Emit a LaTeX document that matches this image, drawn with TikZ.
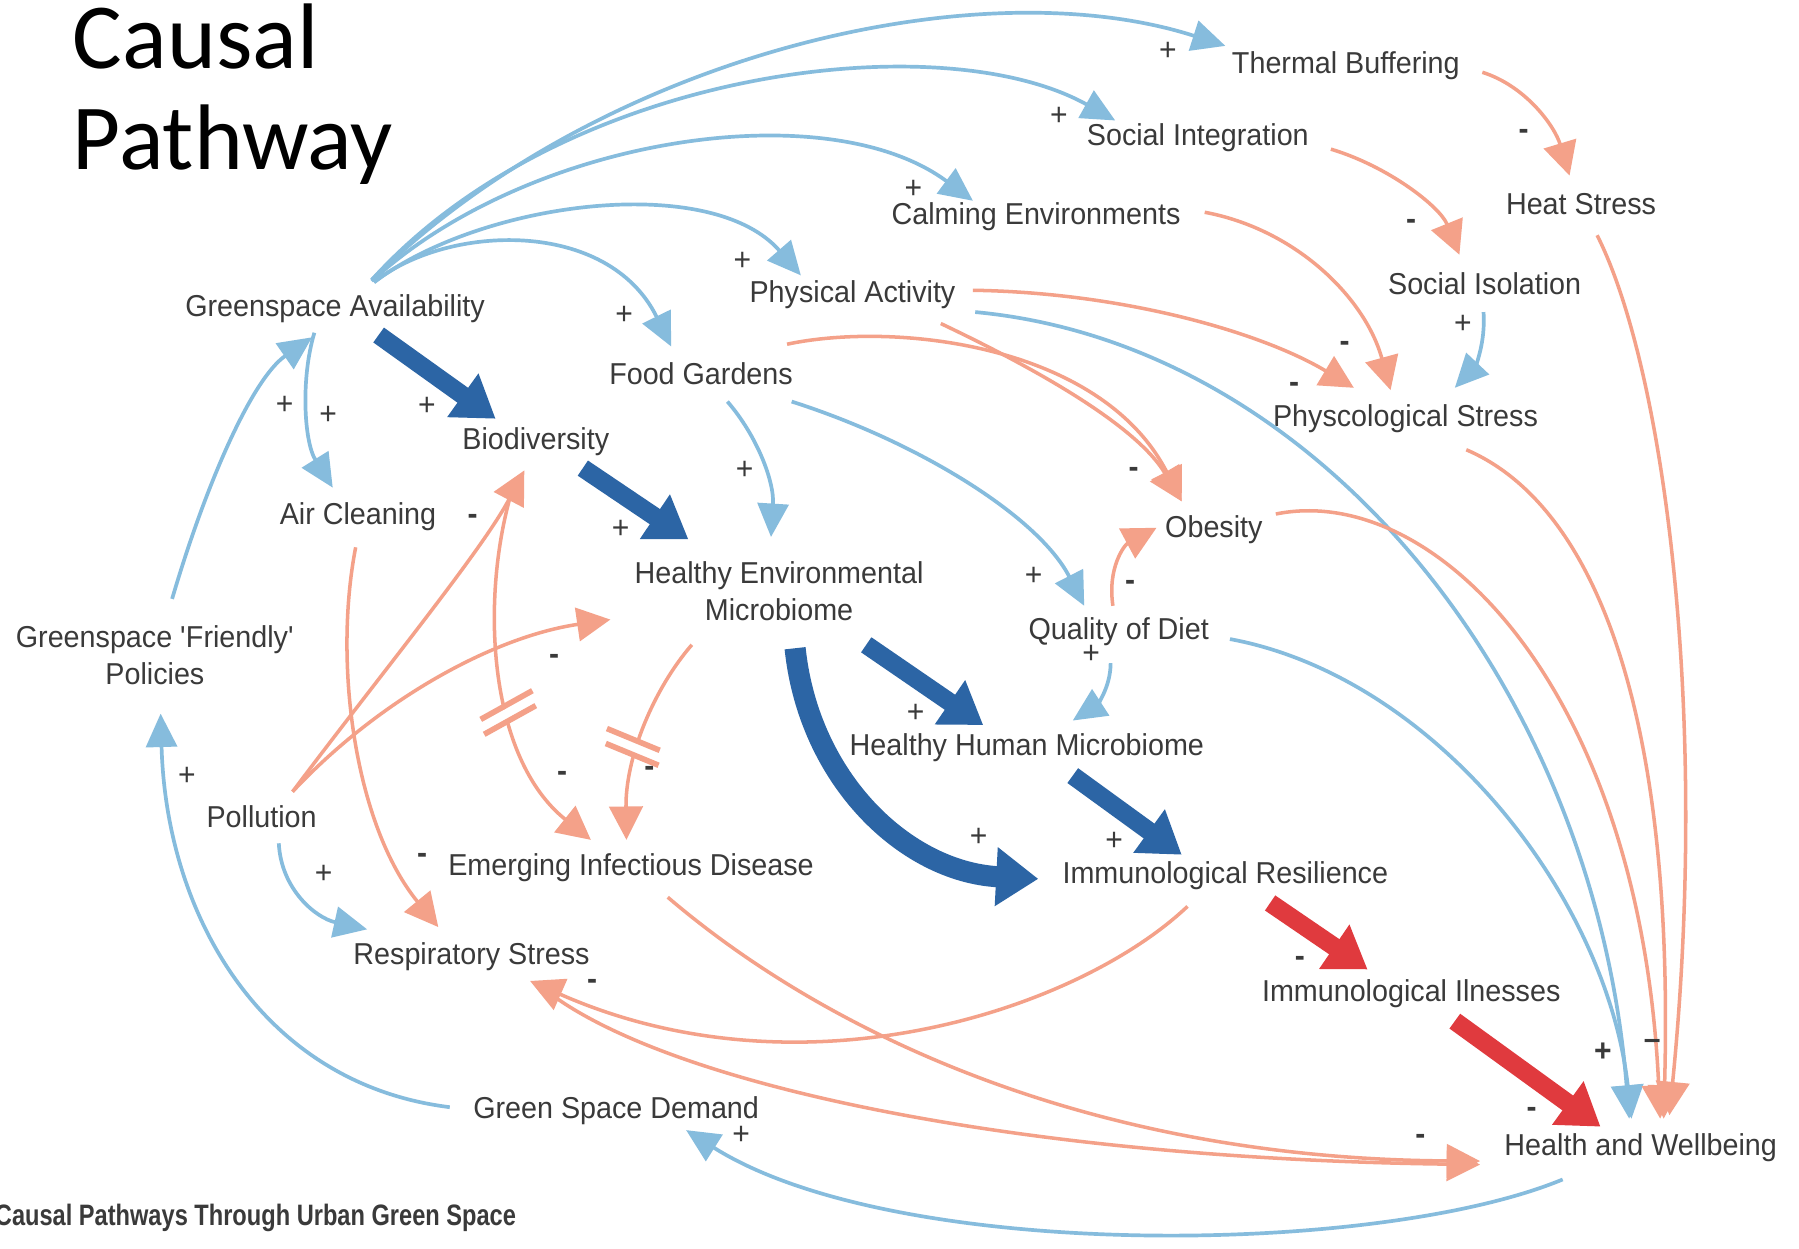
\documentclass[tikz,border=0pt]{standalone}
\usepackage{fontspec}
\setmainfont{Liberation Sans}[FakeStretch=0.95]
\newfontfamily\titlefont{Carlito}
\newfontfamily\capfont{Liberation Sans}[FakeStretch=0.8]
\usetikzlibrary{arrows.meta,calc}
\definecolor{lb}{HTML}{86BCDD}
\definecolor{sal}{HTML}{F4A189}
\definecolor{db}{HTML}{2C65A5}
\definecolor{rd}{HTML}{E03A3E}
\definecolor{txt}{HTML}{3A3A3A}
\begin{document}
\begin{tikzpicture}[x=0.011473cm,y=-0.011473cm,
 lbl/.style={font=\fontsize{8.6}{10.5}\selectfont, text=txt, inner sep=0pt, align=center},
 sgn/.style={font=\fontsize{9}{9}\selectfont, text=txt, inner sep=0pt},
 ng/.style={font=\bfseries\fontsize{9}{9}\selectfont, text=txt, inner sep=0pt},
 blu/.style={draw=lb, line width=1.05pt, -{Triangle[length=9.5pt,width=8.8pt]}},
 sa/.style={draw=sal, line width=1pt, -{Triangle[length=9.5pt,width=9.5pt]}},
 thk/.style={line width=5.2pt, -{Triangle[length=11.5pt,width=14.5pt]}},
 bar/.style={draw=sal, line width=1.6pt},
]
\fill[white] (0,0) rectangle (1568,1088);
\useasboundingbox (0,0) rectangle (1568,1088);

% ---------- nodes ----------
\node[lbl] (tb) at (1173,57) {Thermal Buffering};
\node[lbl] (si) at (1044,120) {Social Integration};
\node[lbl] (hs) at (1378,178) {Heat Stress};
\node[lbl] (ce) at (903,189) {Calming Environments};
\node[lbl] (so) at (1294,247) {Social Isolation};
\node[lbl] (pa) at (743,257) {Physical Activity};
\node[lbl] (ga) at (292,269) {Greenspace Availability};
\node[lbl] (fg) at (611,326) {Food Gardens};
\node[lbl] (ps) at (1225,365) {Physcological Stress};
\node[lbl] (bd) at (467,385) {Biodiversity};
\node[lbl] (ac) at (312,450) {Air Cleaning};
\node[lbl] (ob) at (1058,462) {Obesity};
\node[lbl] (hem) at (679,515) {Healthy Environmental\\Microbiome};
\node[lbl] (qd) at (975,551) {Quality of Diet};
\node[lbl] (gfp) at (135,571) {Greenspace \textquotesingle Friendly\textquotesingle\\Policies};
\node[lbl] (hhm) at (895,652) {Healthy Human Microbiome};
\node[lbl] (po) at (228,712) {Pollution};
\node[lbl] (eid) at (550,756) {Emerging Infectious Disease};
\node[lbl] (ir) at (1068,763) {Immunological Resilience};
\node[lbl] (rs) at (411,834) {Respiratory Stress};
\node[lbl] (ii) at (1230,866) {Immunological Ilnesses};
\node[lbl] (gsd) at (537,968) {Green Space Demand};
\node[lbl] (hw) at (1430,1000) {Health and Wellbeing};

\node[font=\titlefont\fontsize{26.5}{30}\selectfont, anchor=base west, inner sep=0pt] (t1) at (63,60) {Causal};
\node[font=\titlefont\fontsize{26.5}{30}\selectfont, anchor=base west, inner sep=0pt] (t2) at (63,148) {Pathway};
\node[font=\capfont\bfseries\fontsize{8.4}{10}\selectfont, text=txt, anchor=base west, inner sep=0pt] (cap) at (-5,1068) {Causal Pathways Through Urban Green Space};

% ---------- thin blue connectors ----------
\draw[blu] ($(ga)+(32,-25)$) .. controls (520,50) and (850,-30) .. ($(tb)+(-105,-17)$);
\draw[blu] ($(ga)+(32,-25)$) .. controls (490,60) and (820,20) .. ($(si)+(-72,-15)$);
\draw[blu] ($(ga)+(32,-24)$) .. controls (460,120) and (720,80) .. ($(ce)+(-55,-14)$);
\draw[blu] ($(ga)+(34,-23)$) .. controls (420,175) and (620,150) .. ($(pa)+(-45,-17)$);
\draw[blu] ($(ga)+(34,-23)$) .. controls (390,195) and (530,190) .. ($(fg)+(-26,-24)$);
\draw[blu] ($(ga)+(-18,21)$) .. controls (262,330) and (265,385) .. ($(ac)+(-22,-25)$);
\draw[blu] ($(gfp)+(15,-49)$) .. controls (180,420) and (220,330) .. ($(ga)+(-20,25)$);
\draw[blu] ($(gsd)+(-145,-3)$) .. controls (230,945) and (145,800) .. ($(gfp)+(5,51)$);
\draw[blu] ($(hw)+(-68,28)$) .. controls (1200,1095) and (780,1100) .. ($(gsd)+(61,17)$);
\draw[blu] ($(po)+(15,23)$) .. controls (245,775) and (275,800) .. ($(rs)+(-91,-24)$);
\draw[blu] ($(fg)+(23,24)$) .. controls (660,380) and (675,420) .. ($(hem)+(-7,-47)$);
\draw[blu] ($(fg)+(79,24)$) .. controls (800,385) and (905,450) .. ($(qd)+(-30,-23)$);
\draw[blu] ($(pa)+(107,15)$) .. controls (1150,300) and (1390,600) .. ($(hw)+(-10,-25)$);
\draw[blu] ($(qd)+(97,6)$) .. controls (1250,590) and (1400,780) .. ($(hw)+(-8,-25)$);
\draw[blu] ($(qd)+(-7,27)$) .. controls (968,600) and (955,615) .. ($(hhm)+(40,-24)$);
\draw[blu] ($(so)+(-1,25)$) .. controls (1295,300) and (1285,320) .. ($(ps)+(43,-27)$);

% ---------- thin salmon connectors ----------
\draw[sa] ($(tb)+(119,6)$) .. controls (1330,75) and (1355,110) .. ($(hs)+(-10,-25)$);
\draw[sa] ($(si)+(116,10)$) .. controls (1210,145) and (1255,180) .. ($(so)+(-22,-25)$);
\draw[sa] ($(ce)+(147,-4)$) .. controls (1130,200) and (1190,260) .. ($(ps)+(-13,-25)$);
\draw[sa] ($(pa)+(105,-4)$) .. controls (980,255) and (1100,290) .. ($(ps)+(-45,-27)$);
\draw[sa] ($(pa)+(77,25)$) .. controls (900,320) and (990,370) .. ($(ob)+(-28,-25)$);
\draw[sa] ($(fg)+(75,-26)$) .. controls (780,280) and (960,300) .. ($(ob)+(-28,-25)$);
\draw[sa] ($(qd)+(-5,-23)$) .. controls (965,495) and (980,475) .. ($(ob)+(-50,-2)$);
\draw[sa] ($(ob)+(54,-14)$) .. controls (1250,420) and (1430,600) .. ($(hw)+(17,-25)$);
\draw[sa] ($(ps)+(53,27)$) .. controls (1390,440) and (1460,620) .. ($(hw)+(20,-25)$);
\draw[sa] ($(hs)+(14,27)$) .. controls (1450,320) and (1490,620) .. ($(hw)+(25,-28)$);
\draw[sa] ($(ir)+(-33,27)$) .. controls (940,880) and (700,960) .. ($(rs)+(51,21)$);
\draw[sa] ($(eid)+(32,26)$) .. controls (720,900) and (950,1010) .. ($(hw)+(-140,12)$);
\draw[sa] ($(rs)+(74,36)$) .. controls (600,950) and (900,1010) .. ($(hw)+(-140,15)$);
\draw[sa] ($(po)+(27,-22)$) .. controls (330,590) and (420,480) .. ($(bd)+(-10,25)$);
\draw[sa] ($(po)+(27,-22)$) .. controls (330,610) and (430,555) .. ($(hem)+(-147,25)$);
\draw[sa] ($(bd)+(-20,40)$) .. controls (418,520) and (425,660) .. ($(eid)+(-35,-24)$);
\draw[sa] ($(hem)+(-76,47)$) .. controls (570,600) and (545,660) .. ($(eid)+(-4,-24)$);
\draw[sa] ($(ac)+(-2,27)$) .. controls (290,580) and (310,720) .. ($(rs)+(-29,-26)$);

% delay marks
\draw[white, line width=3.5pt] (421,632) -- (466,613);
\draw[bar] (419,627) -- (464,602);
\draw[bar] (422,640) -- (467,615);
\draw[white, line width=3.5pt] (529,642) -- (575,661);
\draw[bar] (529,635) -- (575,654);
\draw[bar] (528,648) -- (574,667);

% ---------- thick connectors ----------
\draw[thk, db] ($(ga)+(38,23)$) -- ($(bd)+(-35,-20)$);
\draw[thk, db] ($(bd)+(41,23)$) -- ($(hem)+(-79,-45)$);
\draw[thk, db] ($(hem)+(76,47)$) -- ($(hhm)+(-38,-20)$);
\draw[thk, db] ($(hhm)+(40,24)$) -- ($(ir)+(-38,-18)$);
\draw[db, line width=6pt, -{Triangle[length=12pt,width=16pt]}] ($(hem)+(14,50)$) .. controls (705,680) and (790,760) .. ($(ir)+(-163,3)$);
\draw[thk, rd] ($(ir)+(39,24)$) -- ($(ii)+(-38,-21)$);
\draw[thk, rd] ($(ii)+(38,24)$) -- ($(hw)+(-35,-18)$);

% ---------- polarity signs ----------
\node[sgn] (p1) at (1018,45) {+};
\node[sgn] (p2) at (923,101) {+};
\node[sgn] (p3) at (796,165) {+};
\node[sgn] (p4) at (647,228) {+};
\node[sgn] (p5) at (544,275) {+};
\node[sgn] (p6) at (248,353) {+};
\node[sgn] (p7) at (286,362) {+};
\node[sgn] (p8) at (372,354) {+};
\node[sgn] (p9) at (541,461) {+};
\node[sgn] (p10) at (649,410) {+};
\node[sgn] (p11) at (901,502) {+};
\node[sgn] (p12) at (951,570) {+};
\node[sgn] (p13) at (798,622) {+};
\node[sgn] (p14) at (853,730) {+};
\node[sgn] (p15) at (971,733) {+};
\node[sgn] (p16) at (163,677) {+};
\node[sgn] (p17) at (282,762) {+};
\node[sgn] (p18) at (646,990) {+};
\node[sgn] (p19) at (1275,283) {+};
\node[ng] (p20) at (1397,917) {+};
\node[ng] (m1) at (1328,117) {-};
\node[ng] (m2) at (1230,196) {-};
\node[ng] (m3) at (1172,302) {-};
\node[ng] (m4) at (1128,338) {-};
\node[ng] (m5) at (988,412) {-};
\node[ng] (m6) at (985,510) {-};
\node[ng] (m7) at (412,453) {-};
\node[ng] (m8) at (483,575) {-};
\node[ng] (m9) at (490,677) {-};
\node[ng] (m10) at (566,672) {-};
\node[ng] (m11) at (368,748) {-};
\node[ng] (m12) at (516,858) {-};
\node[ng] (m13) at (1133,838) {-};
\node[ng] (m14) at (1335,970) {-};
\node[ng] (m15) at (1238,993) {-};
\node[ng] (m16) at (1440,910) {--};
\end{tikzpicture}
\end{document}
